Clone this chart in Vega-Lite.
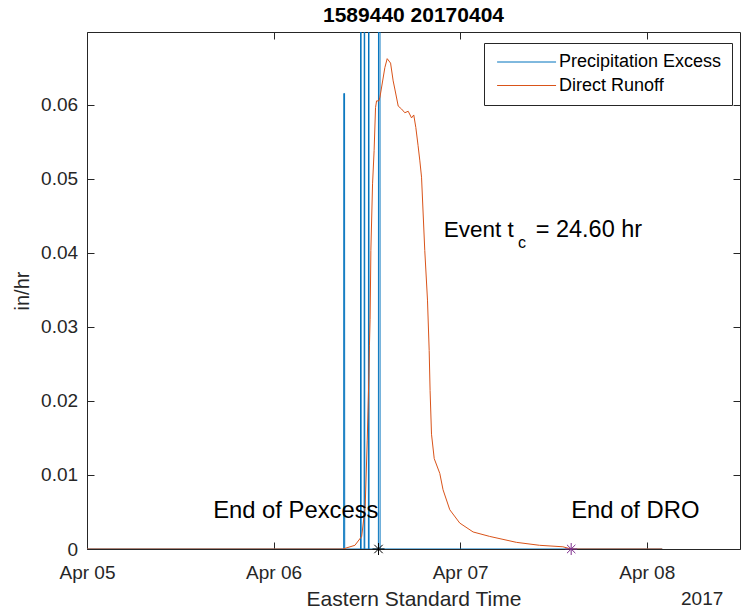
{
  "$schema": "https://vega.github.io/schema/vega-lite/v6.json",
  "width": 653,
  "height": 517,
  "autosize": {"type": "none"},
  "padding": {"left": 87, "top": 32, "right": 2, "bottom": 64},
  "config": {
    "font": "Liberation Sans",
    "view": {"stroke": null},
    "axis": {"grid": false, "domainColor": "#262626", "tickColor": "#262626", "labelColor": "#262626", "titleColor": "#262626", "titleFontWeight": "normal", "labelFont": "Liberation Sans", "titleFont": "Liberation Sans"}
  },
  "title": {"text": "1589440 20170404", "fontSize": 21, "fontWeight": "bold", "color": "#000000", "anchor": "middle", "offset": 6, "font": "Liberation Sans"},
  "datasets": {
    "lines": [
      {"series": "Precipitation Excess", "t": "2017-04-05T00:00:00Z", "v": 0},
      {"series": "Precipitation Excess", "t": "2017-04-06T09:01:00Z", "v": 0},
      {"series": "Precipitation Excess", "t": "2017-04-06T09:02:00Z", "v": 0.0615},
      {"series": "Precipitation Excess", "t": "2017-04-06T09:08:00Z", "v": 0.0615},
      {"series": "Precipitation Excess", "t": "2017-04-06T09:09:00Z", "v": 0},
      {"series": "Precipitation Excess", "t": "2017-04-06T11:11:00Z", "v": 0},
      {"series": "Precipitation Excess", "t": "2017-04-06T11:12:00Z", "v": 0.1},
      {"series": "Precipitation Excess", "t": "2017-04-06T11:15:00Z", "v": 0.1},
      {"series": "Precipitation Excess", "t": "2017-04-06T11:16:00Z", "v": 0},
      {"series": "Precipitation Excess", "t": "2017-04-06T11:39:00Z", "v": 0},
      {"series": "Precipitation Excess", "t": "2017-04-06T11:40:00Z", "v": 0.1},
      {"series": "Precipitation Excess", "t": "2017-04-06T11:43:00Z", "v": 0.1},
      {"series": "Precipitation Excess", "t": "2017-04-06T11:44:00Z", "v": 0},
      {"series": "Precipitation Excess", "t": "2017-04-06T12:12:00Z", "v": 0},
      {"series": "Precipitation Excess", "t": "2017-04-06T12:13:00Z", "v": 0.1},
      {"series": "Precipitation Excess", "t": "2017-04-06T12:16:00Z", "v": 0.1},
      {"series": "Precipitation Excess", "t": "2017-04-06T12:17:00Z", "v": 0},
      {"series": "Precipitation Excess", "t": "2017-04-06T13:29:00Z", "v": 0},
      {"series": "Precipitation Excess", "t": "2017-04-06T13:30:00Z", "v": 0.1},
      {"series": "Precipitation Excess", "t": "2017-04-06T13:41:00Z", "v": 0.1},
      {"series": "Precipitation Excess", "t": "2017-04-06T13:42:00Z", "v": 0},
      {"series": "Precipitation Excess", "t": "2017-04-08T02:00:00Z", "v": 0},
      {"series": "Direct Runoff", "t": "2017-04-05T00:00:00Z", "v": 0},
      {"series": "Direct Runoff", "t": "2017-04-06T08:55:00Z", "v": 0},
      {"series": "Direct Runoff", "t": "2017-04-06T10:28:00Z", "v": 0.0005},
      {"series": "Direct Runoff", "t": "2017-04-06T11:20:00Z", "v": 0.0017},
      {"series": "Direct Runoff", "t": "2017-04-06T11:47:00Z", "v": 0.0057},
      {"series": "Direct Runoff", "t": "2017-04-06T12:03:00Z", "v": 0.0147},
      {"series": "Direct Runoff", "t": "2017-04-06T12:16:00Z", "v": 0.0237},
      {"series": "Direct Runoff", "t": "2017-04-06T12:20:00Z", "v": 0.0275},
      {"series": "Direct Runoff", "t": "2017-04-06T12:25:00Z", "v": 0.031},
      {"series": "Direct Runoff", "t": "2017-04-06T12:31:00Z", "v": 0.0403},
      {"series": "Direct Runoff", "t": "2017-04-06T12:44:00Z", "v": 0.0493},
      {"series": "Direct Runoff", "t": "2017-04-06T12:56:00Z", "v": 0.0538},
      {"series": "Direct Runoff", "t": "2017-04-06T13:07:00Z", "v": 0.0596},
      {"series": "Direct Runoff", "t": "2017-04-06T13:15:00Z", "v": 0.0605},
      {"series": "Direct Runoff", "t": "2017-04-06T13:33:00Z", "v": 0.0605},
      {"series": "Direct Runoff", "t": "2017-04-06T13:41:00Z", "v": 0.061},
      {"series": "Direct Runoff", "t": "2017-04-06T14:19:00Z", "v": 0.065},
      {"series": "Direct Runoff", "t": "2017-04-06T14:37:00Z", "v": 0.0662},
      {"series": "Direct Runoff", "t": "2017-04-06T15:03:00Z", "v": 0.0656},
      {"series": "Direct Runoff", "t": "2017-04-06T15:23:00Z", "v": 0.0632},
      {"series": "Direct Runoff", "t": "2017-04-06T15:36:00Z", "v": 0.0621},
      {"series": "Direct Runoff", "t": "2017-04-06T16:02:00Z", "v": 0.0598},
      {"series": "Direct Runoff", "t": "2017-04-06T16:28:00Z", "v": 0.0594},
      {"series": "Direct Runoff", "t": "2017-04-06T16:53:00Z", "v": 0.0589},
      {"series": "Direct Runoff", "t": "2017-04-06T17:19:00Z", "v": 0.0591},
      {"series": "Direct Runoff", "t": "2017-04-06T17:45:00Z", "v": 0.0582},
      {"series": "Direct Runoff", "t": "2017-04-06T18:02:00Z", "v": 0.0586},
      {"series": "Direct Runoff", "t": "2017-04-06T18:18:00Z", "v": 0.0569},
      {"series": "Direct Runoff", "t": "2017-04-06T18:35:00Z", "v": 0.0545},
      {"series": "Direct Runoff", "t": "2017-04-06T18:49:00Z", "v": 0.0524},
      {"series": "Direct Runoff", "t": "2017-04-06T19:02:00Z", "v": 0.0502},
      {"series": "Direct Runoff", "t": "2017-04-06T19:27:00Z", "v": 0.0403},
      {"series": "Direct Runoff", "t": "2017-04-06T19:48:00Z", "v": 0.0336},
      {"series": "Direct Runoff", "t": "2017-04-06T20:01:00Z", "v": 0.0268},
      {"series": "Direct Runoff", "t": "2017-04-06T20:08:00Z", "v": 0.0214},
      {"series": "Direct Runoff", "t": "2017-04-06T20:19:00Z", "v": 0.0155},
      {"series": "Direct Runoff", "t": "2017-04-06T20:40:00Z", "v": 0.0122},
      {"series": "Direct Runoff", "t": "2017-04-06T21:23:00Z", "v": 0.0102},
      {"series": "Direct Runoff", "t": "2017-04-06T21:48:00Z", "v": 0.008},
      {"series": "Direct Runoff", "t": "2017-04-06T22:40:00Z", "v": 0.0053},
      {"series": "Direct Runoff", "t": "2017-04-06T23:57:00Z", "v": 0.0035},
      {"series": "Direct Runoff", "t": "2017-04-07T01:40:00Z", "v": 0.0023},
      {"series": "Direct Runoff", "t": "2017-04-07T03:48:00Z", "v": 0.0017},
      {"series": "Direct Runoff", "t": "2017-04-07T07:14:00Z", "v": 0.0009},
      {"series": "Direct Runoff", "t": "2017-04-07T10:13:00Z", "v": 0.0005},
      {"series": "Direct Runoff", "t": "2017-04-07T13:13:00Z", "v": 0.0003},
      {"series": "Direct Runoff", "t": "2017-04-07T14:17:00Z", "v": 0},
      {"series": "Direct Runoff", "t": "2017-04-08T02:00:00Z", "v": 0}
    ]
  },
  "layer": [
    {
      "data": {"name": "lines"},
      "mark": {"type": "line", "clip": true, "strokeWidth": 1, "interpolate": "linear"},
      "encoding": {
        "x": {"field": "t", "type": "temporal",
          "scale": {"type": "utc", "nice": false, "domain": [{"year": 2017, "month": 4, "date": 5, "utc": true}, {"year": 2017, "month": 4, "date": 8, "hours": 12, "utc": true}]},
          "axis": {"orient": "bottom", "values": [{"year": 2017, "month": 4, "date": 5, "utc": true}, {"year": 2017, "month": 4, "date": 6, "utc": true}, {"year": 2017, "month": 4, "date": 7, "utc": true}, {"year": 2017, "month": 4, "date": 8, "utc": true}],
            "labelExpr": "utcFormat(datum.value, '%b %d')", "tickSize": -7, "labelPadding": 21.6, "labelFontSize": 19, "labelFlush": false, "labelOverlap": false,
            "title": "Eastern Standard Time", "titleFontSize": 21, "titlePadding": 6}},
        "y": {"field": "v", "type": "quantitative",
          "scale": {"domain": [0, 0.0698], "nice": false, "zero": true},
          "axis": {"orient": "left", "values": [0, 0.01, 0.02, 0.03, 0.04, 0.05, 0.06], "format": ".2~f", "tickSize": -7, "labelPadding": 16.4, "labelFontSize": 19,
            "title": "in/hr", "titleFontSize": 20, "titlePadding": 8}},
        "color": {"field": "series", "type": "nominal",
          "scale": {"domain": ["Precipitation Excess", "Direct Runoff"], "range": ["#0072BD", "#D95319"]},
          "sort": ["Precipitation Excess", "Direct Runoff"],
          "legend": {"orient": "none", "legendX": 397, "legendY": 11, "title": null, "symbolType": "M-1,0L9,0", "symbolSize": 139, "symbolStrokeWidth": 1,
            "labelFontSize": 18, "labelLimit": 400, "labelFont": "Liberation Sans", "labelColor": "#000000", "labelOffset": 47, "padding": 10, "rowPadding": 5.5,
            "strokeColor": "#262626", "fillColor": "#ffffff"}}
      }
    },
    {
      "data": {"values": [{"t": "2017-04-06T13:30:00Z", "v": 0}]},
      "mark": {"type": "point", "shape": "M-1,0L1,0M0,-1L0,1M-0.7,-0.7L0.7,0.7M-0.7,0.7L0.7,-0.7", "filled": false, "size": 144, "strokeWidth": 1, "color": "#000000", "opacity": 1},
      "encoding": {
        "x": {"field": "t", "type": "temporal", "scale": {"type": "utc", "nice": false, "domain": [{"year": 2017, "month": 4, "date": 5, "utc": true}, {"year": 2017, "month": 4, "date": 8, "hours": 12, "utc": true}]}, "axis": null},
        "y": {"field": "v", "type": "quantitative", "scale": {"domain": [0, 0.0698], "nice": false, "zero": true}, "axis": null}
      }
    },
    {
      "data": {"values": [{"t": "2017-04-07T14:17:00Z", "v": 0}]},
      "mark": {"type": "point", "shape": "M-1,0L1,0M0,-1L0,1M-0.7,-0.7L0.7,0.7M-0.7,0.7L0.7,-0.7", "filled": false, "size": 144, "strokeWidth": 1, "color": "#7E2F8E", "opacity": 1},
      "encoding": {
        "x": {"field": "t", "type": "temporal", "scale": {"type": "utc", "nice": false, "domain": [{"year": 2017, "month": 4, "date": 5, "utc": true}, {"year": 2017, "month": 4, "date": 8, "hours": 12, "utc": true}]}, "axis": null},
        "y": {"field": "v", "type": "quantitative", "scale": {"domain": [0, 0.0698], "nice": false, "zero": true}, "axis": null}
      }
    },
    {
      "data": {"values": [{"t": "2017-04-06T13:30:00Z", "v": 0.00414, "label": "End of Pexcess"}]},
      "mark": {"type": "text", "align": "right", "baseline": "alphabetic", "fontSize": 23.8, "color": "#000000", "font": "Liberation Sans"},
      "encoding": {
        "x": {"field": "t", "type": "temporal", "scale": {"type": "utc", "nice": false, "domain": [{"year": 2017, "month": 4, "date": 5, "utc": true}, {"year": 2017, "month": 4, "date": 8, "hours": 12, "utc": true}]}, "axis": null},
        "y": {"field": "v", "type": "quantitative", "scale": {"domain": [0, 0.0698], "nice": false, "zero": true}, "axis": null},
        "text": {"field": "label"}
      }
    },
    {
      "data": {"values": [{"t": "2017-04-07T14:17:00Z", "v": 0.00414, "label": "End of DRO"}]},
      "mark": {"type": "text", "align": "left", "baseline": "alphabetic", "fontSize": 23.8, "color": "#000000", "font": "Liberation Sans"},
      "encoding": {
        "x": {"field": "t", "type": "temporal", "scale": {"type": "utc", "nice": false, "domain": [{"year": 2017, "month": 4, "date": 5, "utc": true}, {"year": 2017, "month": 4, "date": 8, "hours": 12, "utc": true}]}, "axis": null},
        "y": {"field": "v", "type": "quantitative", "scale": {"domain": [0, 0.0698], "nice": false, "zero": true}, "axis": null},
        "text": {"field": "label"}
      }
    },
    {
      "data": {"values": [{"t": "2017-04-06T21:53:00Z", "v": 0.0421, "label": "Event t"}]},
      "mark": {"type": "text", "align": "left", "baseline": "alphabetic", "fontSize": 22.5, "color": "#000000", "font": "Liberation Sans"},
      "encoding": {
        "x": {"field": "t", "type": "temporal", "scale": {"type": "utc", "nice": false, "domain": [{"year": 2017, "month": 4, "date": 5, "utc": true}, {"year": 2017, "month": 4, "date": 8, "hours": 12, "utc": true}]}, "axis": null},
        "y": {"field": "v", "type": "quantitative", "scale": {"domain": [0, 0.0698], "nice": false, "zero": true}, "axis": null},
        "text": {"field": "label"}
      }
    },
    {
      "data": {"values": [{"t": "2017-04-07T09:43:00Z", "v": 0.0421, "label": "= 24.60 hr"}]},
      "mark": {"type": "text", "align": "left", "baseline": "alphabetic", "fontSize": 23.5, "color": "#000000", "font": "Liberation Sans"},
      "encoding": {
        "x": {"field": "t", "type": "temporal", "scale": {"type": "utc", "nice": false, "domain": [{"year": 2017, "month": 4, "date": 5, "utc": true}, {"year": 2017, "month": 4, "date": 8, "hours": 12, "utc": true}]}, "axis": null},
        "y": {"field": "v", "type": "quantitative", "scale": {"domain": [0, 0.0698], "nice": false, "zero": true}, "axis": null},
        "text": {"field": "label"}
      }
    },
    {
      "data": {"values": [{"t": "2017-04-07T07:26:00Z", "v": 0.0406, "label": "c"}]},
      "mark": {"type": "text", "align": "left", "baseline": "alphabetic", "fontSize": 16, "color": "#000000", "font": "Liberation Sans"},
      "encoding": {
        "x": {"field": "t", "type": "temporal", "scale": {"type": "utc", "nice": false, "domain": [{"year": 2017, "month": 4, "date": 5, "utc": true}, {"year": 2017, "month": 4, "date": 8, "hours": 12, "utc": true}]}, "axis": null},
        "y": {"field": "v", "type": "quantitative", "scale": {"domain": [0, 0.0698], "nice": false, "zero": true}, "axis": null},
        "text": {"field": "label"}
      }
    },
    {
      "data": {"values": [{"t": "2017-04-08T09:51:00Z", "v": -0.00755, "label": "2017"}]},
      "mark": {"type": "text", "align": "right", "baseline": "alphabetic", "fontSize": 19, "color": "#262626", "font": "Liberation Sans"},
      "encoding": {
        "x": {"field": "t", "type": "temporal", "scale": {"type": "utc", "nice": false, "domain": [{"year": 2017, "month": 4, "date": 5, "utc": true}, {"year": 2017, "month": 4, "date": 8, "hours": 12, "utc": true}]}, "axis": null},
        "y": {"field": "v", "type": "quantitative", "scale": {"domain": [0, 0.0698], "nice": false, "zero": true}, "axis": null},
        "text": {"field": "label"}
      }
    },
    {
      "data": {"values": [{"t": "2017-04-05T00:00:00Z", "v": 0}]},
      "mark": {"type": "point", "opacity": 0},
      "encoding": {
        "x": {"field": "t", "type": "temporal", "scale": {"type": "utc", "nice": false, "domain": [{"year": 2017, "month": 4, "date": 5, "utc": true}, {"year": 2017, "month": 4, "date": 8, "hours": 12, "utc": true}]},
          "axis": {"orient": "top", "values": [{"year": 2017, "month": 4, "date": 5, "utc": true}, {"year": 2017, "month": 4, "date": 6, "utc": true}, {"year": 2017, "month": 4, "date": 7, "utc": true}, {"year": 2017, "month": 4, "date": 8, "utc": true}], "labels": false, "tickSize": -7, "title": null}},
        "y": {"field": "v", "type": "quantitative", "scale": {"domain": [0, 0.0698], "nice": false, "zero": true},
          "axis": {"orient": "right", "values": [0, 0.01, 0.02, 0.03, 0.04, 0.05, 0.06], "labels": false, "tickSize": -7, "title": null}}
      }
    }
  ],
  "resolve": {"axis": {"x": "independent", "y": "independent"}}
}
